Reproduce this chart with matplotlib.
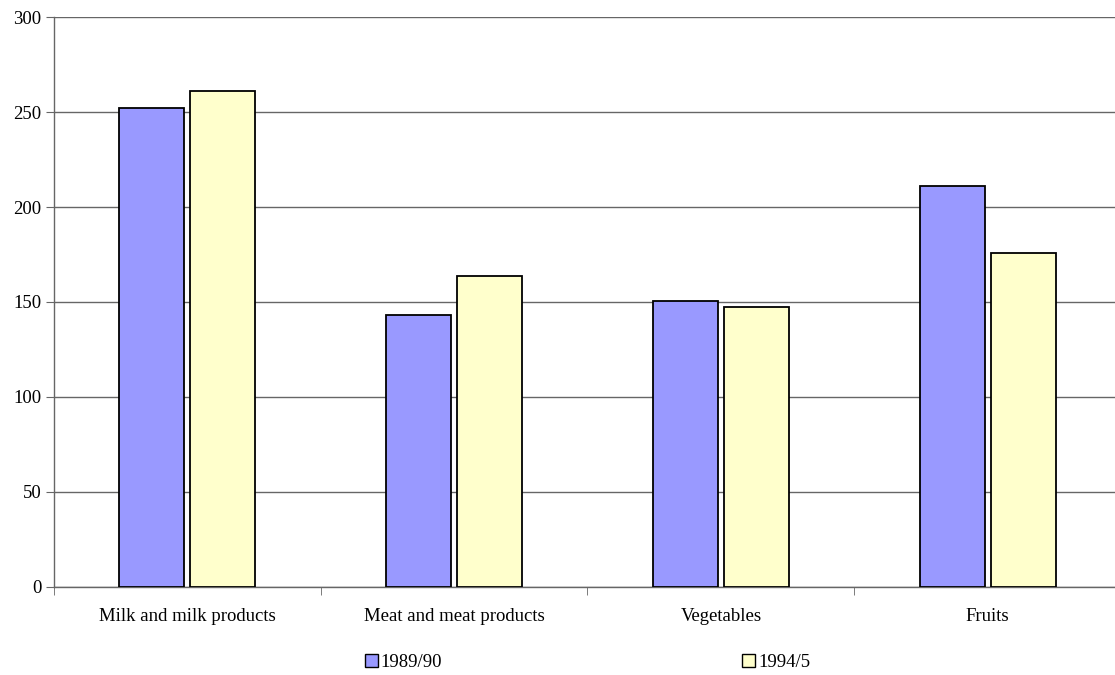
import numpy as np
import matplotlib.pyplot as plt
from matplotlib.patches import Patch

categories = ["Milk and milk products", "Meat and meat products", "Vegetables", "Fruits"]
series_names = ["1989/90", "1994/5"]
values_1989 = [252, 143, 150.5, 211]
values_1994 = [261, 163.5, 147.5, 176]
colors = ["#9999FF", "#FFFFCC"]

plt.rcParams['font.family'] = ['Liberation Serif', 'DejaVu Serif']

fig = plt.figure(figsize=(11.15, 6.75), dpi=100)
ax = fig.add_axes([0.0484, 0.1304, 0.957, 0.8444])

x = np.arange(len(categories))
width = 0.244
offset = 0.133
ax.bar(x - offset, values_1989, width, color=colors[0], edgecolor="black", linewidth=1.3, zorder=3)
ax.bar(x + offset, values_1994, width, color=colors[1], edgecolor="black", linewidth=1.3, zorder=3)

ax.set_xlim(-0.5, len(categories) - 0.5)
ax.set_ylim(0, 300)
ax.set_yticks(np.arange(0, 301, 50))
ax.yaxis.grid(True, color="#666666", linewidth=1.0, zorder=0)

# category labels centred, tick marks on the boundaries
ax.set_xticks(x)
ax.set_xticklabels(categories, fontsize=13.5)
ax.tick_params(axis="x", length=0, pad=15)
ax.set_xticks(np.arange(-0.5, len(categories), 1), minor=True)
ax.tick_params(axis="x", which="minor", length=6, color="#666666", direction="out")
ax.tick_params(axis="y", length=6, color="#666666", labelsize=13.5, pad=3)

for side in ["top", "right"]:
    ax.spines[side].set_visible(False)
for side in ["left", "bottom"]:
    ax.spines[side].set_color("#666666")
    ax.spines[side].set_linewidth(1.0)

handles = [Patch(facecolor=c, edgecolor="black", linewidth=1.0) for c in colors]
fig.legend(handles, series_names, loc="center", bbox_to_anchor=(0.527, 0.019), ncol=2,
           frameon=False, fontsize=13.5, handlelength=0.7, handleheight=0.7,
           handletextpad=0.15, columnspacing=16)

fig.savefig("out.png", dpi=100)
